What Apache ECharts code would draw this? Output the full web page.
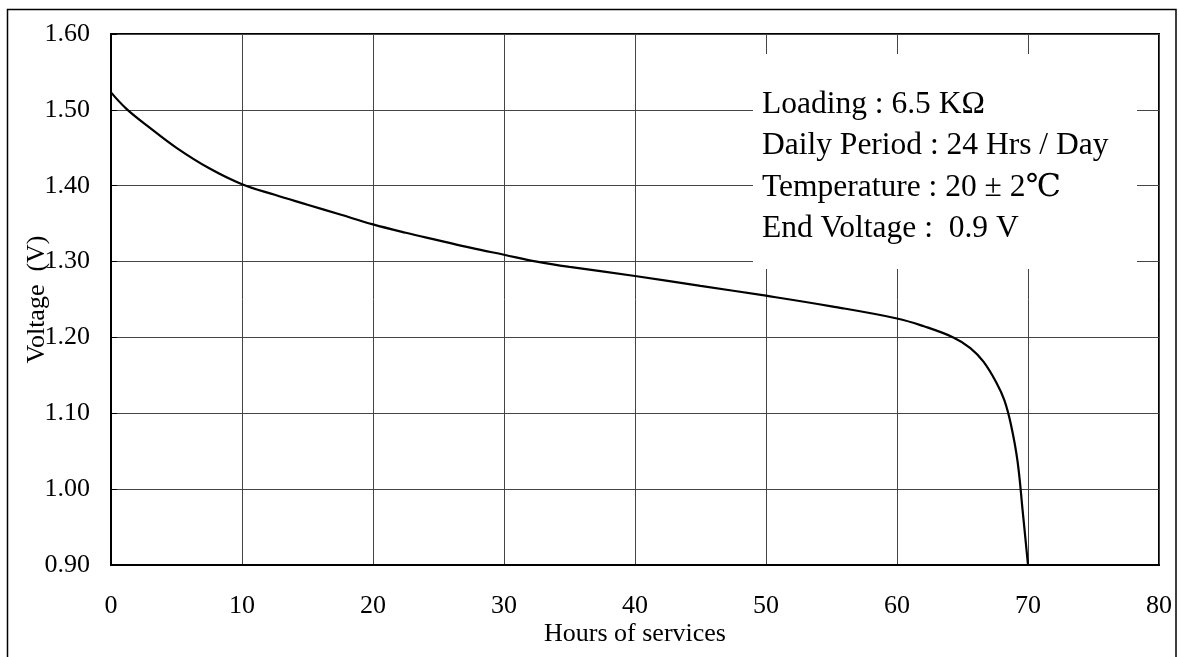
<!DOCTYPE html>
<html>
<head>
<meta charset="utf-8">
<script src="https://cdn.jsdelivr.net/npm/echarts@6/dist/echarts.min.js"></script>
<style>
html,body{margin:0;padding:0;background:#fff;}
#chart{width:1180px;height:657px;}
</style>
</head>
<body>
<div id="chart"></div>
<script>
// Data
var hours   = [0, 1.2, 3, 5, 7.5, 10, 12.5, 15, 17.5, 20, 22.5, 25, 27.5, 30, 32.5, 35, 40, 45, 50, 55, 60, 62, 64.3, 65.6, 66.6, 67.6, 68.2, 68.7, 69.2, 69.6, 70];
var voltage = [1.523, 1.501, 1.476, 1.450, 1.423, 1.402, 1.388, 1.375, 1.362, 1.349, 1.338, 1.328, 1.318, 1.309, 1.300, 1.293, 1.281, 1.268, 1.255, 1.241, 1.225, 1.215, 1.200, 1.186, 1.168, 1.140, 1.117, 1.085, 1.037, 0.970, 0.900];
var xTicks = ['0','10','20','30','40','50','60','70','80'];
var yTicks = ['0.90','1.00','1.10','1.20','1.30','1.40','1.50','1.60'];
var xAxisTitle = 'Hours of services';
var yAxisTitle = 'Voltage  (V)';
var noteLines = ['Loading : 6.5 K\u03A9', 'Daily Period : 24 Hrs / Day', 'Temperature : 20 \u00B1 2\u2103', 'End Voltage :  0.9 V'];

var serif = '"Liberation Serif", "Times New Roman", "DejaVu Serif", serif';
var pts = hours.map(function (h, i) { return [h, voltage[i]]; });

var chart = echarts.init(document.getElementById('chart'), null, {renderer: 'canvas'});

var graphics = [
  {type: 'rect', z: 100, silent: true,
   shape: {x: 7.5, y: 9.5, width: 1168.5, height: 700},
   style: {fill: 'none', stroke: '#000', lineWidth: 1.5}},
  {type: 'rect', z: 1, silent: true,
   shape: {x: 753, y: 54, width: 384, height: 215},
   style: {fill: '#fff', stroke: 'none'}}
];
var centers = [105, 146, 188, 229];
noteLines.forEach(function (t, i) {
  graphics.push({type: 'text', z: 2, silent: true, x: 762, y: centers[i],
    style: {text: t, fill: '#000', fontFamily: serif, fontSize: 31.5, verticalAlign: 'middle', align: 'left'}});
});

chart.setOption({
  animation: false,
  backgroundColor: '#fff',
  grid: {left: 111, right: 21, top: 34, bottom: 92, show: true, borderColor: '#000', borderWidth: 2, backgroundColor: 'transparent', z: 0},
  xAxis: {
    type: 'value', min: 0, max: 80, interval: 10,
    name: xAxisTitle, nameLocation: 'middle', nameGap: 56, nameMoveOverlap: false,
    nameTextStyle: {fontFamily: serif, fontSize: 26, color: '#000'},
    axisLine: {show: true, lineStyle: {color: '#000', width: 2}},
    axisTick: {show: false},
    axisLabel: {fontFamily: serif, fontSize: 26, color: '#000', margin: 28,
      formatter: function (v) { return xTicks[Math.round(v / 10)]; }},
    splitLine: {show: true, lineStyle: {color: '#444', width: 1}}
  },
  yAxis: {
    type: 'value', min: 0.9, max: 1.6, interval: 0.1,
    name: yAxisTitle, nameLocation: 'middle', nameGap: 61, nameRotate: 90, nameMoveOverlap: false,
    nameTextStyle: {fontFamily: serif, fontSize: 26, color: '#000'},
    axisLine: {show: true, lineStyle: {color: '#000', width: 2}},
    axisTick: {show: true, inside: true, length: 6, lineStyle: {color: '#000', width: 1}},
    axisLabel: {fontFamily: serif, fontSize: 26, color: '#000', margin: 21,
      formatter: function (v) { return yTicks[Math.round((v - 0.9) * 10)]; }},
    splitLine: {show: true, lineStyle: {color: '#444', width: 1}}
  },
  series: [{
    type: 'line', data: pts, smooth: 0.4, showSymbol: false, z: 5,
    lineStyle: {color: '#000', width: 2.2}
  }],
  graphic: graphics
});
</script>
</body>
</html>
